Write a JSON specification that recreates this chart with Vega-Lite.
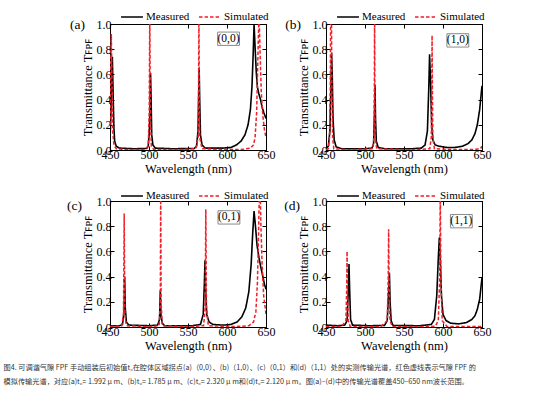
{
"$schema": "https://vega.github.io/schema/vega-lite/v6.json",
"padding": {"left": 3, "top": 4, "right": 5, "bottom": 5},
"bounds": "flush",
"columns": 2,
"spacing": {"row": 51, "column": 60},
"datasets": {
"a_measured": [{"wl":450,"T":0.08},{"wl":451,"T":0.25},{"wl":452,"T":0.55},{"wl":453,"T":0.74},{"wl":454,"T":0.45},{"wl":455,"T":0.18},{"wl":456,"T":0.07},{"wl":458,"T":0.03},{"wl":462,"T":0.015},{"wl":480,"T":0.01},{"wl":497,"T":0.012},{"wl":499,"T":0.03},{"wl":500.5,"T":0.15},{"wl":501.5,"T":0.45},{"wl":502,"T":0.61},{"wl":502.7,"T":0.4},{"wl":503.5,"T":0.12},{"wl":505,"T":0.04},{"wl":508,"T":0.015},{"wl":530,"T":0.01},{"wl":558,"T":0.012},{"wl":561,"T":0.03},{"wl":562.8,"T":0.15},{"wl":563.7,"T":0.45},{"wl":564.3,"T":0.65},{"wl":565,"T":0.4},{"wl":566,"T":0.12},{"wl":568,"T":0.04},{"wl":572,"T":0.015},{"wl":595,"T":0.015},{"wl":605,"T":0.02},{"wl":612,"T":0.04},{"wl":618,"T":0.07},{"wl":623,"T":0.12},{"wl":627,"T":0.2},{"wl":630,"T":0.32},{"wl":632,"T":0.5},{"wl":633.5,"T":0.75},{"wl":634.7,"T":1.0},{"wl":636,"T":0.82},{"wl":637.5,"T":0.62},{"wl":639,"T":0.5},{"wl":641,"T":0.44},{"wl":643,"T":0.4},{"wl":645,"T":0.34},{"wl":647,"T":0.3},{"wl":650,"T":0.25}],
"a_simulated": [{"wl":450,"T":0.2},{"wl":451,"T":0.7},{"wl":451.7,"T":0.92},{"wl":452.4,"T":0.6},{"wl":453.5,"T":0.15},{"wl":455,"T":0.04},{"wl":458,"T":0.01},{"wl":470,"T":0.003},{"wl":495,"T":0.005},{"wl":499,"T":0.03},{"wl":500.3,"T":0.3},{"wl":501,"T":1.1},{"wl":501.7,"T":0.3},{"wl":503,"T":0.03},{"wl":506,"T":0.005},{"wl":540,"T":0.003},{"wl":560,"T":0.01},{"wl":563,"T":0.1},{"wl":563.5,"T":0.4},{"wl":564,"T":1.1},{"wl":564.5,"T":0.4},{"wl":565,"T":0.1},{"wl":568,"T":0.01},{"wl":600,"T":0.003},{"wl":620,"T":0.005},{"wl":630,"T":0.015},{"wl":634,"T":0.04},{"wl":636,"T":0.1},{"wl":638,"T":0.3},{"wl":639.5,"T":0.7},{"wl":641,"T":1.1},{"wl":642.5,"T":0.75},{"wl":644,"T":0.45},{"wl":646,"T":0.27},{"wl":648,"T":0.16},{"wl":650,"T":0.1}],
"b_measured": [{"wl":450,"T":0.01},{"wl":453,"T":0.03},{"wl":455,"T":0.15},{"wl":456.3,"T":0.5},{"wl":457.2,"T":0.77},{"wl":458,"T":0.6},{"wl":459,"T":0.25},{"wl":460.5,"T":0.08},{"wl":463,"T":0.025},{"wl":470,"T":0.01},{"wl":500,"T":0.01},{"wl":509,"T":0.015},{"wl":511,"T":0.05},{"wl":512.2,"T":0.3},{"wl":512.8,"T":0.52},{"wl":513.5,"T":0.25},{"wl":514.5,"T":0.07},{"wl":517,"T":0.02},{"wl":525,"T":0.01},{"wl":560,"T":0.01},{"wl":572,"T":0.015},{"wl":577,"T":0.04},{"wl":580,"T":0.15},{"wl":581.8,"T":0.5},{"wl":582.8,"T":0.76},{"wl":584,"T":0.55},{"wl":585.5,"T":0.2},{"wl":587,"T":0.08},{"wl":590,"T":0.04},{"wl":595,"T":0.03},{"wl":605,"T":0.02},{"wl":615,"T":0.02},{"wl":625,"T":0.03},{"wl":632,"T":0.05},{"wl":637,"T":0.08},{"wl":641,"T":0.13},{"wl":644,"T":0.2},{"wl":647,"T":0.32},{"wl":650,"T":0.51}],
"b_simulated": [{"wl":450,"T":0.002},{"wl":453,"T":0.01},{"wl":454.5,"T":0.1},{"wl":455.5,"T":0.5},{"wl":456,"T":1.1},{"wl":457,"T":1.1},{"wl":457.5,"T":0.5},{"wl":458.5,"T":0.1},{"wl":460,"T":0.01},{"wl":480,"T":0.002},{"wl":510,"T":0.01},{"wl":511.5,"T":0.1},{"wl":512,"T":0.5},{"wl":512.3,"T":1.1},{"wl":512.6,"T":0.5},{"wl":513,"T":0.1},{"wl":515,"T":0.01},{"wl":560,"T":0.002},{"wl":583,"T":0.01},{"wl":585,"T":0.1},{"wl":585.6,"T":0.5},{"wl":586,"T":0.91},{"wl":586.4,"T":0.5},{"wl":587,"T":0.1},{"wl":589,"T":0.01},{"wl":620,"T":0.003},{"wl":640,"T":0.005},{"wl":648,"T":0.01},{"wl":650,"T":0.03}],
"c_measured": [{"wl":450,"T":0.01},{"wl":462,"T":0.01},{"wl":466,"T":0.02},{"wl":468,"T":0.12},{"wl":468.8,"T":0.4},{"wl":469.6,"T":0.15},{"wl":471,"T":0.04},{"wl":474,"T":0.015},{"wl":500,"T":0.01},{"wl":511,"T":0.015},{"wl":513.5,"T":0.06},{"wl":514.5,"T":0.29},{"wl":515.3,"T":0.1},{"wl":517,"T":0.03},{"wl":520,"T":0.01},{"wl":555,"T":0.01},{"wl":566,"T":0.02},{"wl":569.5,"T":0.1},{"wl":571,"T":0.35},{"wl":571.8,"T":0.53},{"wl":572.6,"T":0.3},{"wl":574,"T":0.1},{"wl":577,"T":0.04},{"wl":582,"T":0.02},{"wl":595,"T":0.015},{"wl":605,"T":0.02},{"wl":613,"T":0.04},{"wl":619,"T":0.08},{"wl":624,"T":0.15},{"wl":628,"T":0.28},{"wl":631,"T":0.5},{"wl":633,"T":0.75},{"wl":634.7,"T":0.92},{"wl":636.5,"T":0.8},{"wl":638.5,"T":0.65},{"wl":641,"T":0.55},{"wl":643.5,"T":0.47},{"wl":646,"T":0.4},{"wl":648,"T":0.34},{"wl":650,"T":0.3}],
"c_simulated": [{"wl":450,"T":0.003},{"wl":465,"T":0.01},{"wl":467.3,"T":0.1},{"wl":467.8,"T":0.5},{"wl":468.2,"T":0.9},{"wl":468.6,"T":0.5},{"wl":469.1,"T":0.1},{"wl":471,"T":0.01},{"wl":500,"T":0.003},{"wl":513,"T":0.01},{"wl":514.5,"T":0.2},{"wl":515,"T":1.1},{"wl":515.5,"T":0.2},{"wl":517,"T":0.01},{"wl":550,"T":0.003},{"wl":570,"T":0.01},{"wl":572,"T":0.15},{"wl":572.5,"T":0.6},{"wl":572.8,"T":0.935},{"wl":573.2,"T":0.6},{"wl":573.7,"T":0.15},{"wl":576,"T":0.01},{"wl":610,"T":0.003},{"wl":628,"T":0.01},{"wl":634,"T":0.04},{"wl":637,"T":0.12},{"wl":639,"T":0.35},{"wl":640.5,"T":0.75},{"wl":641.5,"T":1.1},{"wl":642.5,"T":1.1},{"wl":643.5,"T":0.8},{"wl":645,"T":0.5},{"wl":647,"T":0.25},{"wl":650,"T":0.1}],
"d_measured": [{"wl":450,"T":0.015},{"wl":465,"T":0.01},{"wl":474,"T":0.015},{"wl":477,"T":0.05},{"wl":478.7,"T":0.3},{"wl":479.5,"T":0.5},{"wl":480.3,"T":0.3},{"wl":481.5,"T":0.06},{"wl":484,"T":0.015},{"wl":505,"T":0.01},{"wl":525,"T":0.012},{"wl":528.5,"T":0.05},{"wl":530.5,"T":0.3},{"wl":531.3,"T":0.43},{"wl":532.2,"T":0.2},{"wl":533.5,"T":0.05},{"wl":536,"T":0.012},{"wl":570,"T":0.01},{"wl":585,"T":0.02},{"wl":589,"T":0.06},{"wl":592,"T":0.25},{"wl":594,"T":0.55},{"wl":595.3,"T":0.71},{"wl":596.5,"T":0.55},{"wl":598,"T":0.25},{"wl":600,"T":0.1},{"wl":604,"T":0.05},{"wl":610,"T":0.03},{"wl":620,"T":0.025},{"wl":630,"T":0.035},{"wl":637,"T":0.06},{"wl":641,"T":0.09},{"wl":644,"T":0.14},{"wl":647,"T":0.22},{"wl":650,"T":0.39}],
"d_simulated": [{"wl":450,"T":0.003},{"wl":470,"T":0.005},{"wl":475.5,"T":0.05},{"wl":476.5,"T":0.3},{"wl":477,"T":0.6},{"wl":477.5,"T":0.3},{"wl":478.5,"T":0.05},{"wl":481,"T":0.005},{"wl":520,"T":0.003},{"wl":528.5,"T":0.05},{"wl":529.8,"T":0.4},{"wl":530.3,"T":0.775},{"wl":530.8,"T":0.4},{"wl":532,"T":0.05},{"wl":535,"T":0.003},{"wl":590,"T":0.005},{"wl":594,"T":0.05},{"wl":595.8,"T":0.4},{"wl":596.5,"T":1.1},{"wl":597.3,"T":0.4},{"wl":599,"T":0.05},{"wl":605,"T":0.005},{"wl":640,"T":0.003},{"wl":650,"T":0.005}]
},
"concat": [
{"width": 156, "height": 126,
 "layer": [
  {"data": {"name": "a_measured"}, "mark": {"type": "line", "clip": true, "strokeWidth": 1.6},
   "encoding": {
    "x": {"field": "wl", "type": "quantitative", "scale": {"domain": [450, 650], "nice": false, "zero": false}, "axis": {"orient": "bottom", "values": [450, 500, 550, 600, 650], "title": "Wavelength (nm)"}},
    "y": {"field": "T", "type": "quantitative", "scale": {"domain": [0, 1], "nice": false}, "axis": {"orient": "left", "values": [0, 0.2, 0.4, 0.6, 0.8, 1.0], "format": ".1f", "title": "Transmittance Tꜰᴘꜰ"}},
    "color": {"datum": "Measured", "type": "nominal", "scale": {"domain": ["Measured", "Simulated"], "range": ["#000000", "#f01e28"]}, "legend": {"orient": "none", "legendX": 10, "legendY": -19, "direction": "horizontal", "title": null}},
    "strokeDash": {"datum": "Measured", "type": "nominal", "scale": {"domain": ["Measured", "Simulated"], "range": [[1, 0], [3.5, 2]]}, "legend": {"orient": "none", "legendX": 10, "legendY": -19, "direction": "horizontal", "title": null}}
   }},
  {"data": {"name": "a_simulated"}, "mark": {"type": "line", "clip": true, "strokeWidth": 1.5},
   "encoding": {
    "x": {"field": "wl", "type": "quantitative", "axis": {"orient": "top", "values": [450, 500, 550, 600, 650], "labels": false, "title": null}},
    "y": {"field": "T", "type": "quantitative", "axis": {"orient": "right", "values": [0, 0.2, 0.4, 0.6, 0.8, 1.0], "labels": false, "title": null}},
    "color": {"datum": "Simulated", "type": "nominal"},
    "strokeDash": {"datum": "Simulated", "type": "nominal"}
   }},
  {"data": {"values": [{"label": "(0,0)"}]}, "mark": {"type": "rect", "fill": "white", "stroke": "#8a8a8a", "strokeWidth": 1},
   "encoding": {"x": {"datum": 588, "type": "quantitative", "axis": null}, "x2": {"datum": 616}, "y": {"datum": 0.83, "type": "quantitative", "axis": null}, "y2": {"datum": 0.936}}},
  {"data": {"values": [{"label": "(0,0)"}]}, "mark": {"type": "text", "font": "Liberation Serif", "fontSize": 11.5, "align": "center", "baseline": "middle"},
   "encoding": {"x": {"datum": 602, "type": "quantitative", "axis": null}, "y": {"datum": 0.883, "type": "quantitative", "axis": null}, "text": {"field": "label"}}},
  {"data": {"values": [{"label": "(a)"}]}, "mark": {"type": "text", "font": "Liberation Serif", "fontSize": 13.5, "align": "right", "baseline": "middle", "dx": -25},
   "encoding": {"x": {"datum": 450, "type": "quantitative", "axis": null}, "y": {"datum": 0.99, "type": "quantitative", "axis": null}, "text": {"field": "label"}}}
 ],
 "resolve": {"axis": {"x": "independent", "y": "independent"}}
},
{"width": 156, "height": 126,
 "layer": [
  {"data": {"name": "b_measured"}, "mark": {"type": "line", "clip": true, "strokeWidth": 1.6},
   "encoding": {
    "x": {"field": "wl", "type": "quantitative", "scale": {"domain": [450, 650], "nice": false, "zero": false}, "axis": {"orient": "bottom", "values": [450, 500, 550, 600, 650], "title": "Wavelength (nm)"}},
    "y": {"field": "T", "type": "quantitative", "scale": {"domain": [0, 1], "nice": false}, "axis": {"orient": "left", "values": [0, 0.2, 0.4, 0.6, 0.8, 1.0], "format": ".1f", "title": "Transmittance Tꜰᴘꜰ"}},
    "color": {"datum": "Measured", "type": "nominal", "scale": {"domain": ["Measured", "Simulated"], "range": ["#000000", "#f01e28"]}, "legend": {"orient": "none", "legendX": 10, "legendY": -19, "direction": "horizontal", "title": null}},
    "strokeDash": {"datum": "Measured", "type": "nominal", "scale": {"domain": ["Measured", "Simulated"], "range": [[1, 0], [3.5, 2]]}, "legend": {"orient": "none", "legendX": 10, "legendY": -19, "direction": "horizontal", "title": null}}
   }},
  {"data": {"name": "b_simulated"}, "mark": {"type": "line", "clip": true, "strokeWidth": 1.5},
   "encoding": {
    "x": {"field": "wl", "type": "quantitative", "axis": {"orient": "top", "values": [450, 500, 550, 600, 650], "labels": false, "title": null}},
    "y": {"field": "T", "type": "quantitative", "axis": {"orient": "right", "values": [0, 0.2, 0.4, 0.6, 0.8, 1.0], "labels": false, "title": null}},
    "color": {"datum": "Simulated", "type": "nominal"},
    "strokeDash": {"datum": "Simulated", "type": "nominal"}
   }},
  {"data": {"values": [{"label": "(1,0)"}]}, "mark": {"type": "rect", "fill": "white", "stroke": "#8a8a8a", "strokeWidth": 1},
   "encoding": {"x": {"datum": 605, "type": "quantitative", "axis": null}, "x2": {"datum": 633}, "y": {"datum": 0.817, "type": "quantitative", "axis": null}, "y2": {"datum": 0.923}}},
  {"data": {"values": [{"label": "(1,0)"}]}, "mark": {"type": "text", "font": "Liberation Serif", "fontSize": 11.5, "align": "center", "baseline": "middle"},
   "encoding": {"x": {"datum": 619, "type": "quantitative", "axis": null}, "y": {"datum": 0.87, "type": "quantitative", "axis": null}, "text": {"field": "label"}}},
  {"data": {"values": [{"label": "(b)"}]}, "mark": {"type": "text", "font": "Liberation Serif", "fontSize": 13.5, "align": "right", "baseline": "middle", "dx": -25},
   "encoding": {"x": {"datum": 450, "type": "quantitative", "axis": null}, "y": {"datum": 0.99, "type": "quantitative", "axis": null}, "text": {"field": "label"}}}
 ],
 "resolve": {"axis": {"x": "independent", "y": "independent"}}
},
{"width": 156, "height": 126,
 "layer": [
  {"data": {"name": "c_measured"}, "mark": {"type": "line", "clip": true, "strokeWidth": 1.6},
   "encoding": {
    "x": {"field": "wl", "type": "quantitative", "scale": {"domain": [450, 650], "nice": false, "zero": false}, "axis": {"orient": "bottom", "values": [450, 500, 550, 600, 650], "title": "Wavelength (nm)"}},
    "y": {"field": "T", "type": "quantitative", "scale": {"domain": [0, 1], "nice": false}, "axis": {"orient": "left", "values": [0, 0.2, 0.4, 0.6, 0.8, 1.0], "format": ".1f", "title": "Transmittance Tꜰᴘꜰ"}},
    "color": {"datum": "Measured", "type": "nominal", "scale": {"domain": ["Measured", "Simulated"], "range": ["#000000", "#f01e28"]}, "legend": {"orient": "none", "legendX": 10, "legendY": -17, "direction": "horizontal", "title": null}},
    "strokeDash": {"datum": "Measured", "type": "nominal", "scale": {"domain": ["Measured", "Simulated"], "range": [[1, 0], [3.5, 2]]}, "legend": {"orient": "none", "legendX": 10, "legendY": -17, "direction": "horizontal", "title": null}}
   }},
  {"data": {"name": "c_simulated"}, "mark": {"type": "line", "clip": true, "strokeWidth": 1.5},
   "encoding": {
    "x": {"field": "wl", "type": "quantitative", "axis": {"orient": "top", "values": [450, 500, 550, 600, 650], "labels": false, "title": null}},
    "y": {"field": "T", "type": "quantitative", "axis": {"orient": "right", "values": [0, 0.2, 0.4, 0.6, 0.8, 1.0], "labels": false, "title": null}},
    "color": {"datum": "Simulated", "type": "nominal"},
    "strokeDash": {"datum": "Simulated", "type": "nominal"}
   }},
  {"data": {"values": [{"label": "(0,1)"}]}, "mark": {"type": "rect", "fill": "white", "stroke": "#8a8a8a", "strokeWidth": 1},
   "encoding": {"x": {"datum": 588.5, "type": "quantitative", "axis": null}, "x2": {"datum": 616.5}, "y": {"datum": 0.817, "type": "quantitative", "axis": null}, "y2": {"datum": 0.923}}},
  {"data": {"values": [{"label": "(0,1)"}]}, "mark": {"type": "text", "font": "Liberation Serif", "fontSize": 11.5, "align": "center", "baseline": "middle"},
   "encoding": {"x": {"datum": 602.5, "type": "quantitative", "axis": null}, "y": {"datum": 0.87, "type": "quantitative", "axis": null}, "text": {"field": "label"}}},
  {"data": {"values": [{"label": "(c)"}]}, "mark": {"type": "text", "font": "Liberation Serif", "fontSize": 13.5, "align": "right", "baseline": "middle", "dx": -28},
   "encoding": {"x": {"datum": 450, "type": "quantitative", "axis": null}, "y": {"datum": 0.96, "type": "quantitative", "axis": null}, "text": {"field": "label"}}}
 ],
 "resolve": {"axis": {"x": "independent", "y": "independent"}}
},
{"width": 156, "height": 126,
 "layer": [
  {"data": {"name": "d_measured"}, "mark": {"type": "line", "clip": true, "strokeWidth": 1.6},
   "encoding": {
    "x": {"field": "wl", "type": "quantitative", "scale": {"domain": [450, 650], "nice": false, "zero": false}, "axis": {"orient": "bottom", "values": [450, 500, 550, 600, 650], "title": "Wavelength (nm)"}},
    "y": {"field": "T", "type": "quantitative", "scale": {"domain": [0, 1], "nice": false}, "axis": {"orient": "left", "values": [0, 0.2, 0.4, 0.6, 0.8, 1.0], "format": ".1f", "title": "Transmittance Tꜰᴘꜰ"}},
    "color": {"datum": "Measured", "type": "nominal", "scale": {"domain": ["Measured", "Simulated"], "range": ["#000000", "#f01e28"]}, "legend": {"orient": "none", "legendX": 10, "legendY": -17, "direction": "horizontal", "title": null}},
    "strokeDash": {"datum": "Measured", "type": "nominal", "scale": {"domain": ["Measured", "Simulated"], "range": [[1, 0], [3.5, 2]]}, "legend": {"orient": "none", "legendX": 10, "legendY": -17, "direction": "horizontal", "title": null}}
   }},
  {"data": {"name": "d_simulated"}, "mark": {"type": "line", "clip": true, "strokeWidth": 1.5},
   "encoding": {
    "x": {"field": "wl", "type": "quantitative", "axis": {"orient": "top", "values": [450, 500, 550, 600, 650], "labels": false, "title": null}},
    "y": {"field": "T", "type": "quantitative", "axis": {"orient": "right", "values": [0, 0.2, 0.4, 0.6, 0.8, 1.0], "labels": false, "title": null}},
    "color": {"datum": "Simulated", "type": "nominal"},
    "strokeDash": {"datum": "Simulated", "type": "nominal"}
   }},
  {"data": {"values": [{"label": "(1,1)"}]}, "mark": {"type": "rect", "fill": "white", "stroke": "#8a8a8a", "strokeWidth": 1},
   "encoding": {"x": {"datum": 609.5, "type": "quantitative", "axis": null}, "x2": {"datum": 637.5}, "y": {"datum": 0.787, "type": "quantitative", "axis": null}, "y2": {"datum": 0.893}}},
  {"data": {"values": [{"label": "(1,1)"}]}, "mark": {"type": "text", "font": "Liberation Serif", "fontSize": 11.5, "align": "center", "baseline": "middle"},
   "encoding": {"x": {"datum": 623.5, "type": "quantitative", "axis": null}, "y": {"datum": 0.84, "type": "quantitative", "axis": null}, "text": {"field": "label"}}},
  {"data": {"values": [{"label": "(d)"}]}, "mark": {"type": "text", "font": "Liberation Serif", "fontSize": 13.5, "align": "right", "baseline": "middle", "dx": -26},
   "encoding": {"x": {"datum": 450, "type": "quantitative", "axis": null}, "y": {"datum": 0.96, "type": "quantitative", "axis": null}, "text": {"field": "label"}}}
 ],
 "resolve": {"axis": {"x": "independent", "y": "independent"}}
}
],
"resolve": {"scale": {"color": "independent", "strokeDash": "independent"}, "legend": {"color": "independent", "strokeDash": "independent"}},
"title": {
 "text": ["图4. 可调谐气隙 FPF 手动组装后初始值t₀在腔体区域拐点(a)（0,0）、(b)（1,0）、(c)（0,1）和(d)（1,1）处的实测传输光谱，红色虚线表示气隙 FPF 的", "模拟传输光谱，对应(a)t₀= 1.992 μ m、(b)t₀= 1.785 μ m、(c)t₀= 2.320 μ m和(d)t₀= 2.120 μ m。图(a)–(d)中的传输光谱覆盖450–650 nm波长范围。"],
 "orient": "bottom", "anchor": "start", "frame": "bounds", "dx": -63, "offset": 12,
 "font": "Noto Sans CJK SC", "fontSize": 7.2, "fontWeight": "normal", "color": "#333333", "lineHeight": 14
},
"config": {
 "view": {"stroke": "#000000", "strokeWidth": 1},
 "axis": {"grid": false, "domainColor": "#000000", "tickColor": "#000000", "labelColor": "#000000", "titleColor": "#000000", "tickSize": -4, "labelFont": "Liberation Serif", "titleFont": "Liberation Serif", "labelFontSize": 12, "titleFontSize": 12.5, "titleFontWeight": "normal", "labelPadding": 3, "titlePadding": 2, "labelFlush": false, "labelOverlap": false},
 "legend": {"labelFont": "Liberation Serif", "labelFontSize": 11, "labelColor": "#000000", "symbolType": "stroke", "symbolSize": 480, "symbolStrokeWidth": 1.5, "padding": 0, "columnPadding": 6, "labelOffset": 2, "symbolStrokeColor": null}
}
}
